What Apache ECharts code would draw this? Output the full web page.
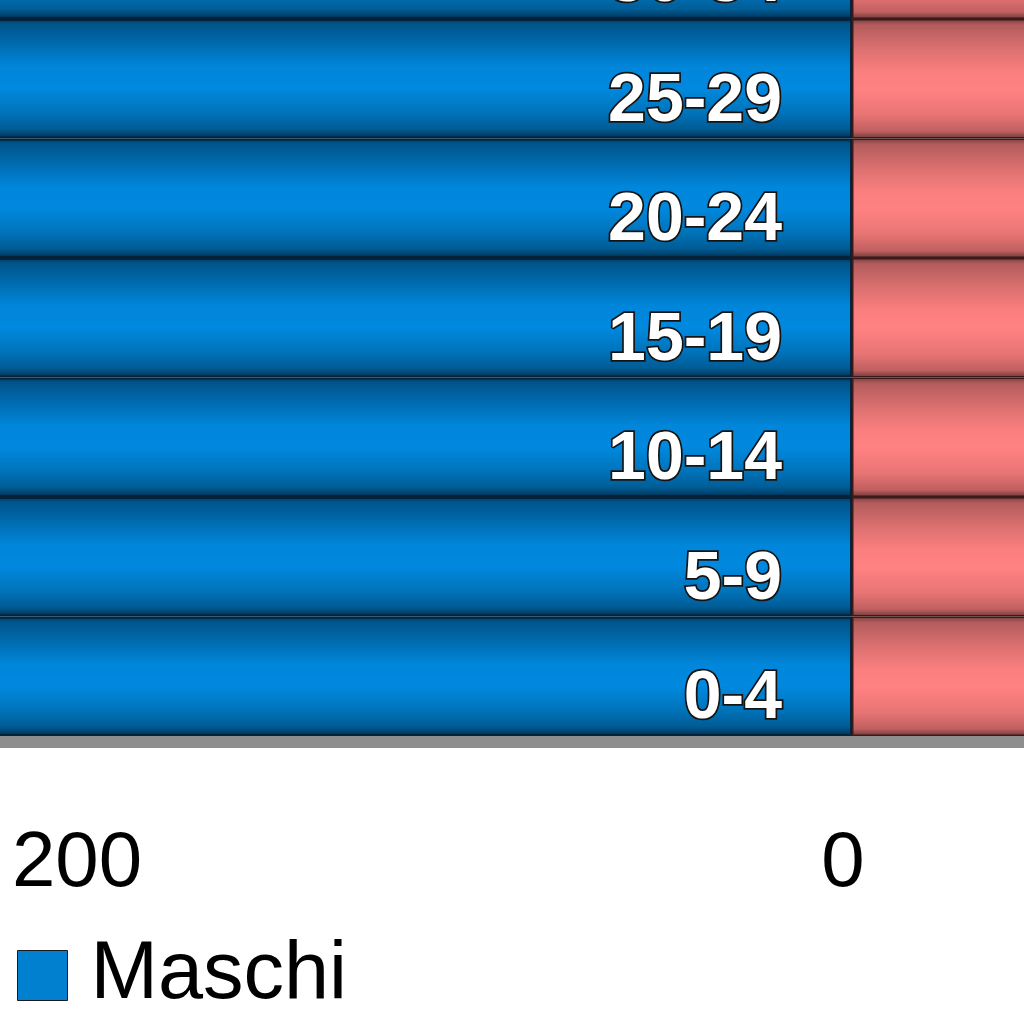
<!DOCTYPE html>
<html>
<head>
<meta charset="utf-8">
<script src="https://cdn.jsdelivr.net/npm/echarts@6/dist/echarts.min.js"></script>
<style>html,body{margin:0;padding:0;background:#fff;}#c{width:1024px;height:1024px;}</style>
</head>
<body>
<div id="c"></div>
<script>
// Age classes (only the lower part of the pyramid is visible in the crop)
const categories = ['0-4', '5-9', '10-14', '15-19', '20-24', '25-29', '30-34'];
// Values are off-picture beyond the visible window (>~222 for males, >~45 for females): estimated
const maschi = [262, 281, 294, 305, 318, 332, 345];
const femmine = [248, 266, 279, 290, 301, 316, 330];
const xTicks = [-400, -200, 0, 200, 400];

const chart = echarts.init(document.getElementById('c'), null, {renderer: 'canvas'});

const blueGrad = new echarts.graphic.LinearGradient(0, 0, 0, 1, [
  {offset: 0, color: '#003655'},
  {offset: 0.04, color: '#00548a'},
  {offset: 0.2, color: '#006aad'},
  {offset: 0.4, color: '#0086da'},
  {offset: 0.58, color: '#0089df'},
  {offset: 0.78, color: '#0074bb'},
  {offset: 0.92, color: '#005c96'},
  {offset: 0.97, color: '#00426d'},
  {offset: 1, color: '#002640'}
]);
const pinkGrad = new echarts.graphic.LinearGradient(0, 0, 0, 1, [
  {offset: 0, color: '#7a3e3e'},
  {offset: 0.05, color: '#b45c5c'},
  {offset: 0.25, color: '#dc7070'},
  {offset: 0.45, color: '#fc7f7f'},
  {offset: 0.6, color: '#ff8181'},
  {offset: 0.8, color: '#e87474'},
  {offset: 0.94, color: '#c06060'},
  {offset: 1, color: '#6e3838'}
]);

const GRID_LEFT = -680, GRID_RIGHT = -1360, CHART_W = 1024;
const zeroOffset = -((CHART_W - GRID_LEFT - GRID_RIGHT) / 2); // axis moved to the value 0 line

chart.setOption({
  animation: false,
  backgroundColor: '#ffffff',
  textStyle: {fontFamily: 'Liberation Sans'},
  grid: {left: GRID_LEFT, right: GRID_RIGHT, top: -100.5, bottom: 288, containLabel: false, outerBoundsMode: 'none'},
  legend: {
    left: 12, top: 930,
    itemWidth: 50, itemHeight: 50, itemGap: 615,
    icon: 'rect',
    textStyle: {fontSize: 81, color: '#000', fontFamily: 'Liberation Sans', padding: [0, 0, 0, 18]},
    data: [
      {name: 'Maschi', itemStyle: {color: '#0080cf', borderColor: '#1a1a1a', borderWidth: 1}},
      {name: 'Femmine', itemStyle: {color: '#ff8080', borderColor: '#1a1a1a', borderWidth: 1}}
    ]
  },
  xAxis: {
    type: 'value',
    min: xTicks[0], max: xTicks[xTicks.length - 1], interval: 200,
    offset: 6,
    axisLine: {show: true, lineStyle: {color: '#8e8e8e', width: 12}},
    axisTick: {show: false},
    splitLine: {show: false},
    axisLabel: {
      fontSize: 78, color: '#000', margin: 83,
      padding: [0, 18, 0, 0],
      formatter: v => String(Math.abs(v))
    }
  },
  yAxis: {
    type: 'category',
    data: categories,
    position: 'left',
    offset: zeroOffset,
    axisLine: {show: false, onZero: false},
    axisTick: {show: false},
    splitLine: {show: false},
    z: 10,
    axisLabel: {
      color: '#ffffff', fontSize: 68, fontWeight: 'bold',
      textBorderColor: '#141414', textBorderWidth: 3.5,
      margin: 70, verticalAlign: 'top', lineHeight: 46
    }
  },
  series: [
    {
      name: 'Maschi', type: 'bar', stack: 'tot',
      barCategoryGap: '0%',
      data: maschi.map(v => -v),
      itemStyle: {color: blueGrad, borderColor: '#04233a', borderWidth: 2}
    },
    {
      name: 'Femmine', type: 'bar', stack: 'tot',
      barCategoryGap: '0%',
      data: femmine,
      itemStyle: {color: pinkGrad, borderColor: '#3a1a1a', borderWidth: 1.5}
    }
  ]
});
</script>
</body>
</html>
